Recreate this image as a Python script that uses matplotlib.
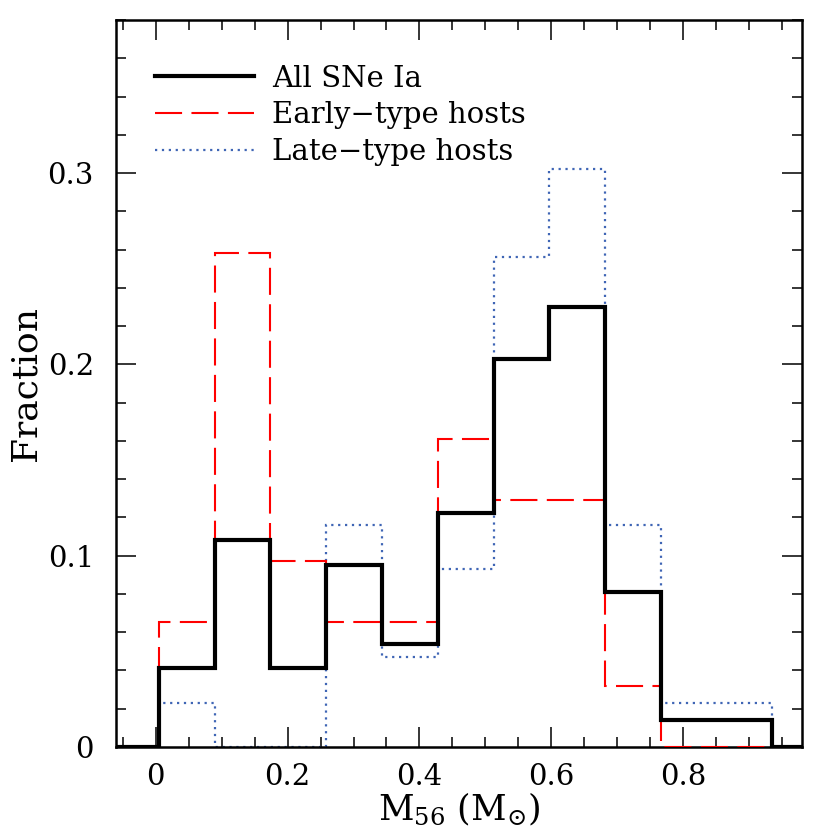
# Fraction of SNe Ia per 56Ni mass bin, split by host type.

import matplotlib
matplotlib.use("Agg")
import matplotlib.pyplot as plt
from matplotlib.lines import Line2D

# bin edges in M56 (Msun)
bin_edges = [0.005, 0.090, 0.174, 0.259, 0.343, 0.428, 0.513, 0.597, 0.682, 0.766, 0.851, 0.935]

frac_all = [0.041, 0.108, 0.041, 0.095, 0.054, 0.122, 0.203, 0.230, 0.081, 0.014, 0.014]
frac_early = [0.065, 0.258, 0.097, 0.065, 0.065, 0.161, 0.129, 0.129, 0.032, 0.0, 0.0]
frac_late = [0.023, 0.0, 0.0, 0.116, 0.047, 0.093, 0.256, 0.302, 0.116, 0.023, 0.023]

labels = ["All SNe Ia", "Early\u2212type hosts", "Late\u2212type hosts"]

xlim = (-0.06, 0.98)
ylim = (0.0, 0.38)

plt.rcParams["font.family"] = ["DejaVu Serif"]
plt.rcParams["mathtext.fontset"] = "dejavuserif"

fig = plt.figure(figsize=(8.3, 8.4), dpi=100)
ax = fig.add_axes([0.140, 0.111, 0.826, 0.865])

red_ls = (0, (13, 4.5))
blue_ls = (0, (1, 2.1))

# black histogram runs along zero out to the frame on both sides
ax.stairs([0.0] + frac_all + [0.0], [xlim[0]] + bin_edges + [xlim[1]],
          color="black", linewidth=3.0, zorder=4, baseline=None)
ax.stairs(frac_early, bin_edges, color="#ff0000", linewidth=1.5,
          linestyle=red_ls, zorder=3)
ax.stairs(frac_late, bin_edges, color="#3f65b5", linewidth=1.6,
          linestyle=blue_ls, zorder=2)

ax.set_xlim(*xlim)
ax.set_ylim(*ylim)

ax.set_xticks([0, 0.2, 0.4, 0.6, 0.8])
ax.set_xticklabels(["0", "0.2", "0.4", "0.6", "0.8"])
ax.set_xticks([i * 0.05 for i in range(-1, 20)], minor=True)
ax.set_yticks([0, 0.1, 0.2, 0.3])
ax.set_yticklabels(["0", "0.1", "0.2", "0.3"])
ax.set_yticks([i * 0.02 for i in range(0, 20)], minor=True)

ax.tick_params(which="both", direction="in", top=True, right=True, width=1.1)
ax.tick_params(which="major", length=14.5, labelsize=21)
ax.tick_params(axis="x", which="major", pad=12)
ax.tick_params(axis="y", which="major", pad=16)
ax.tick_params(which="minor", length=7.2)
for sp in ax.spines.values():
    sp.set_linewidth(1.8)
    sp.set_zorder(2.5)

ax.set_xlabel(r"M$_{56}$ (M$_{\odot}$)", fontsize=25, labelpad=0)
ax.set_ylabel("Fraction", fontsize=26, labelpad=4)

handles = [
    Line2D([], [], color="black", linewidth=3.0),
    Line2D([], [], color="#ff0000", linewidth=1.5, linestyle=red_ls),
    Line2D([], [], color="#3f65b5", linewidth=1.6, linestyle=blue_ls),
]
ax.legend(handles, labels, loc="upper left", frameon=False, fontsize=21,
          handlelength=3.4, handletextpad=0.6, labelspacing=0.3,
          bbox_to_anchor=(0.04, 0.955), borderaxespad=0)

fig.savefig("out.png", dpi=100)
plt.close(fig)
